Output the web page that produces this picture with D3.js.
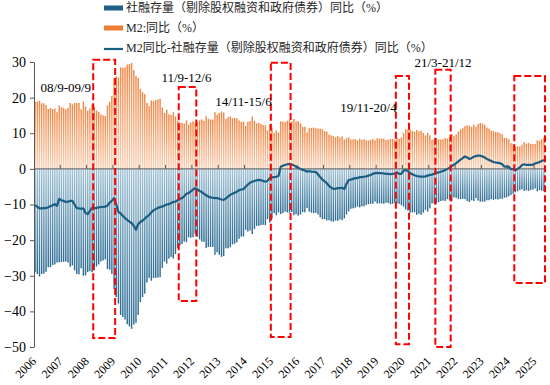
<!DOCTYPE html>
<html>
<head>
<meta charset="utf-8">
<script src="https://cdn.jsdelivr.net/npm/d3@7"></script>
<style>
  html, body { margin: 0; padding: 0; background: #fff; }
  svg { display: block; }
  .serif { font-family: "Liberation Serif", "Times New Roman", serif; }
  .legend text { font-family: "Liberation Serif", "Noto Sans CJK SC", serif; font-size: 12px; fill: #262626; }
</style>
</head>
<body>
<svg id="chart" width="550" height="385"></svg>
<script>
// 月度数据：2006-03 ~ 2025-07
const startMonth = new Date(2006, 2, 1);
const endMonth = new Date(2025, 7, 1);
const months = d3.timeMonths(startMonth, endMonth);

// M2 同比 (%)
const m2 = [
  18.8, 18.9, 19.1, 18.4, 18.4, 17.9, 16.8, 17.1, 16.8, 16.9,             // 2006.03-12
  15.9, 17.8, 17.3, 17.1, 16.7, 17.1, 18.5, 18.1, 18.5, 18.5, 18.5, 16.7, // 2007
  18.9, 17.5, 16.3, 16.9, 18.1, 17.4, 16.4, 16.0, 15.3, 15.0, 14.8, 17.8, // 2008
  18.8, 20.5, 25.5, 26.0, 25.7, 28.5, 28.4, 28.5, 29.3, 29.4, 29.7, 27.7, // 2009
  26.1, 25.5, 22.5, 21.5, 21.0, 18.5, 17.6, 19.2, 19.0, 19.3, 19.5, 19.7, // 2010
  17.2, 15.7, 16.6, 15.3, 15.1, 15.9, 14.7, 13.5, 13.0, 12.9, 12.7, 13.6, // 2011
  12.4, 13.0, 13.4, 12.8, 13.2, 13.6, 13.9, 13.5, 14.8, 14.1, 13.9, 13.8, // 2012
  15.9, 15.2, 15.7, 16.1, 15.8, 14.0, 14.5, 14.7, 14.2, 14.3, 14.2, 13.6, // 2013
  13.2, 13.3, 12.1, 13.2, 13.4, 14.7, 13.5, 12.8, 12.9, 12.6, 12.3, 12.2, // 2014
  10.8, 12.5, 11.6, 10.1, 10.8, 10.2, 13.3, 13.3, 13.1, 13.5, 13.7, 13.3, // 2015
  14.0, 13.3, 13.4, 12.8, 11.8, 11.8, 10.2, 11.4, 11.5, 11.6, 11.4, 11.3, // 2016
  11.3, 11.1, 10.6, 10.5, 9.6, 9.4, 9.2, 8.9, 9.2, 8.8, 9.1, 8.2,         // 2017
  8.6, 8.8, 8.2, 8.3, 8.3, 8.0, 8.5, 8.2, 8.3, 8.0, 8.0, 8.1,             // 2018
  8.4, 8.0, 8.6, 8.5, 8.5, 8.5, 8.1, 8.2, 8.4, 8.4, 8.2, 8.7,             // 2019
  8.4, 8.8, 10.1, 11.1, 11.1, 11.1, 10.7, 10.4, 10.9, 10.5, 10.7, 10.1,   // 2020
  9.4, 10.1, 9.4, 8.1, 8.3, 8.6, 8.3, 8.2, 8.3, 8.7, 8.5, 9.0,            // 2021
  9.8, 9.2, 9.7, 10.5, 11.1, 11.4, 12.0, 12.2, 12.1, 11.8, 12.4, 11.8,    // 2022
  12.6, 12.9, 12.7, 12.4, 11.6, 11.3, 10.7, 10.6, 10.3, 10.3, 10.0, 9.7,  // 2023
  8.7, 8.7, 8.3, 7.2, 7.0, 6.2, 6.3, 6.3, 6.8, 7.5, 7.1, 7.3,             // 2024
  7.0, 7.0, 7.0, 8.0, 7.9, 8.3, 8.8                                       // 2025.01-07
];

// 社融存量（剔除股权融资和政府债券）同比 (%)，图中以负向柱显示
const sf = [
  29.0, 29.5, 30.2, 29.5, 29.4, 28.9, 27.6, 27.6, 27.0, 26.8,             // 2006.03-12
  26.3, 26.2, 26.1, 26.1, 26.0, 26.3, 27.5, 27.1, 28.5, 29.5, 29.6, 27.9, // 2007
  30.0, 29.9, 29.0, 28.7, 29.0, 28.4, 27.4, 26.8, 26.0, 25.7, 25.4, 28.1, // 2008
  28.3, 29.5, 33.7, 36.0, 37.8, 41.0, 41.6, 42.3, 43.6, 44.2, 44.9, 43.7, // 2009
  43.2, 41.0, 37.4, 36.0, 35.0, 31.9, 30.6, 31.4, 30.6, 30.6, 30.5, 30.4, // 2010
  27.8, 26.0, 26.6, 25.2, 24.7, 25.2, 23.9, 22.3, 21.4, 21.1, 20.4, 20.6, // 2011
  19.2, 19.3, 19.2, 18.2, 19.0, 19.8, 20.4, 20.5, 22.2, 21.9, 21.9, 21.9, // 2012
  24.1, 23.4, 24.1, 24.7, 24.5, 22.3, 22.3, 22.0, 21.2, 21.0, 20.6, 19.6, // 2013
  19.0, 19.0, 17.1, 17.6, 17.3, 18.3, 16.9, 16.0, 16.0, 15.8, 15.7, 15.8, // 2014
  14.1, 15.1, 14.0, 12.4, 13.0, 12.2, 12.7, 12.4, 12.0, 12.2, 12.3, 12.1, // 2015
  13.0, 12.7, 13.1, 12.8, 12.1, 12.2, 11.0, 12.0, 12.3, 12.4, 12.3, 12.8, // 2016
  13.6, 14.1, 14.1, 14.5, 14.4, 14.7, 14.8, 14.5, 14.6, 14.2, 14.4, 13.9, // 2017
  12.8, 11.9, 11.2, 11.1, 10.9, 10.6, 10.8, 10.5, 10.5, 10.1, 9.9, 9.8,   // 2018
  9.8, 9.2, 9.7, 9.7, 9.7, 9.8, 9.5, 9.6, 9.9, 9.8, 9.5, 9.7,             // 2019
  9.8, 10.2, 10.6, 11.4, 11.7, 12.3, 12.2, 12.2, 12.9, 12.6, 12.9, 12.3,  // 2020
  11.5, 12.0, 11.1, 9.7, 9.7, 9.7, 9.3, 9.0, 8.9, 9.0, 8.5, 8.7,          // 2021
  9.0, 8.0, 8.1, 8.4, 8.5, 8.4, 8.5, 9.0, 9.3, 8.8, 9.0, 8.2,             // 2022
  8.9, 9.2, 9.2, 9.2, 8.8, 8.8, 8.5, 8.7, 8.5, 8.6, 8.4, 8.4,             // 2023
  8.1, 8.0, 7.7, 7.3, 7.0, 6.6, 6.3, 5.9, 5.7, 6.2, 6.0, 6.2,             // 2024
  5.9, 5.8, 5.5, 6.3, 6.0, 6.1, 6.3                                       // 2025.01-07
];

// M2同比 - 社融存量同比
const spread = m2.map((v, i) => v - sf[i]);

const yTicks = [30, 20, 10, 0, -10, -20, -30, -40, -50];

// 红色虚线框标注：[起始月, 结束月, 上沿, 下沿]
const boxes = [
  ["2008-06", "2009-03", 30.6, -47.5],
  ["2011-09", "2012-04", 23.0, -37.1],
  ["2015-03", "2015-11", 29.8, -47.2],
  ["2019-12", "2020-05", 26.1, -49.2],
  ["2021-06", "2021-12", 27.8, -50.0],
  ["2024-06", "2025-07", 26.1, -32.0]
];
// 文字标注：[文字, 中心月, 基线数值]
const notes = [
  ["08/9-09/9", "2007-05", 21.6],
  ["11/9-12/6", "2011-12", 24.4],
  ["14/11-15/6", "2014-02", 17.7],
  ["19/11-20/4", "2018-11", 16.0],
  ["21/3-21/12", "2021-09", 28.7]
];

const legendItems = [
  { label: "社融存量（剔除股权融资和政府债券）同比（%）", type: "bar", color: "#1f5f88" },
  { label: "M2:同比（%）", type: "bar", color: "#ed7d31" },
  { label: "M2同比-社融存量（剔除股权融资和政府债券）同比（%）", type: "line", color: "#1b5e84" }
];

const svg = d3.select("#chart");
const fmt = d3.timeFormat("%Y-%m");
const idxOf = s => months.findIndex(m => fmt(m) === s);

const x = d3.scaleBand().domain(d3.range(months.length)).range([34, 545]).paddingInner(0.35).paddingOuter(0.175);
const y = d3.scaleLinear().domain([-50, 30]).range([347, 62]);
const step = x.step();

// 渐变
const defs = svg.append("defs");
const gOr = defs.append("linearGradient").attr("id", "gOrange").attr("x1", 0).attr("y1", 0).attr("x2", 0).attr("y2", 1);
gOr.append("stop").attr("offset", "0%").attr("stop-color", "#ef8440");
gOr.append("stop").attr("offset", "100%").attr("stop-color", "#f9d2b8");
const gBl = defs.append("linearGradient").attr("id", "gBlue").attr("x1", 0).attr("y1", 0).attr("x2", 0).attr("y2", 1);
gBl.append("stop").attr("offset", "0%").attr("stop-color", "#a3c3d6");
gBl.append("stop").attr("offset", "100%").attr("stop-color", "#2a6a91");

// 柱
svg.append("g").selectAll("rect").data(m2).join("rect")
  .attr("x", (d, i) => x(i)).attr("width", x.bandwidth())
  .attr("y", d => y(d)).attr("height", d => y(0) - y(d))
  .attr("fill", "url(#gOrange)");

svg.append("g").selectAll("rect").data(sf).join("rect")
  .attr("x", (d, i) => x(i)).attr("width", x.bandwidth())
  .attr("y", y(0)).attr("height", d => y(-d) - y(0))
  .attr("fill", "url(#gBlue)");

// 零轴与刻度
svg.append("line").attr("x1", 34).attr("x2", 545).attr("y1", y(0)).attr("y2", y(0))
  .attr("stroke", "#595959").attr("stroke-width", 1);
const yearStarts = d3.range(0, months.length, 12);
svg.append("g").selectAll("line").data(yearStarts.slice(1)).join("line")
  .attr("x1", d => x(d) - step * 0.175).attr("x2", d => x(d) - step * 0.175)
  .attr("y1", y(0)).attr("y2", y(0) - 4)
  .attr("stroke", "#595959").attr("stroke-width", 1);

// 年份标签
svg.append("g").attr("class", "serif").selectAll("text").data(yearStarts).join("text")
  .attr("transform", d => `translate(${x(d) + x.bandwidth() / 2 + 2},362) rotate(-45)`)
  .attr("text-anchor", "end")
  .attr("font-size", 12).attr("fill", "#000")
  .text(d => months[d].getFullYear());

// Y 轴
const yAxis = svg.append("g").attr("class", "serif").attr("transform", "translate(34,0)")
  .call(d3.axisLeft(y).tickValues(yTicks).tickSize(4).tickSizeOuter(0).tickPadding(4));
yAxis.select(".domain").attr("stroke", "#595959");
yAxis.selectAll(".tick line").attr("stroke", "#595959");
yAxis.selectAll(".tick text").attr("font-size", 14).attr("fill", "#000").style("font-family", "Liberation Serif, serif");

// 差值折线
const line = d3.line().x((d, i) => x(i) + x.bandwidth() / 2).y(d => y(d));
svg.append("path").datum(spread).attr("d", line)
  .attr("fill", "none").attr("stroke", "#1b5e84").attr("stroke-width", 2.2).attr("stroke-linejoin", "round");

// 红框
svg.append("g").selectAll("rect").data(boxes).join("rect")
  .attr("x", d => x(idxOf(d[0])) - step * 0.175)
  .attr("width", d => x(idxOf(d[1])) - x(idxOf(d[0])) + step)
  .attr("y", d => y(d[2])).attr("height", d => y(d[3]) - y(d[2]))
  .attr("fill", "none").attr("stroke", "#ff0000").attr("stroke-width", 2).attr("stroke-dasharray", "7,3");

// 标注文字
svg.append("g").attr("class", "serif").selectAll("text").data(notes).join("text")
  .attr("x", d => x(idxOf(d[1])) + x.bandwidth() / 2).attr("y", d => y(d[2]))
  .attr("text-anchor", "middle").attr("font-size", 13).attr("fill", "#000")
  .text(d => d[0]);

// 图例
const lg = svg.append("g").attr("class", "legend");
legendItems.forEach((d, i) => {
  const yy = 8 + i * 20;
  if (d.type === "bar") {
    lg.append("rect").attr("x", 104).attr("y", yy - 2.5).attr("width", 19).attr("height", 5).attr("fill", d.color);
  } else {
    lg.append("line").attr("x1", 104).attr("x2", 123).attr("y1", yy + 1).attr("y2", yy + 1)
      .attr("stroke", d.color).attr("stroke-width", 2.2);
  }
  lg.append("text").attr("x", 126).attr("y", yy).attr("dy", "0.36em").text(d.label);
});
</script>
</body>
</html>
